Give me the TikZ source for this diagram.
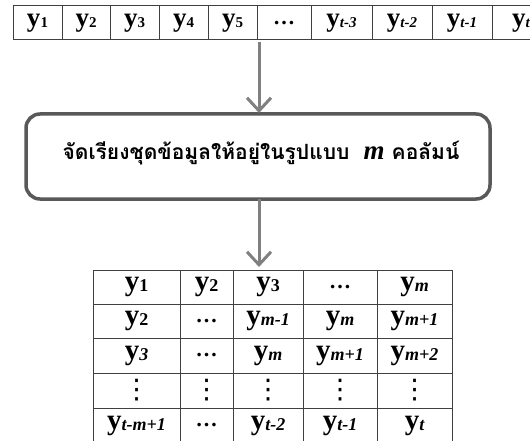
\documentclass[tikz,border=0pt]{standalone}
\usepackage{fontspec}
\setmainfont{Liberation Serif}
\newfontfamily\thaifont[Script=Thai]{Loma}
\newfontfamily\symfont{DejaVu Sans}
\usetikzlibrary{arrows.meta}
\newcommand{\ya}[1]{{\fontsize{27}{27}\selectfont\bfseries y}\raisebox{-1pt}{\fontsize{15}{15}\selectfont\bfseries #1}}
\newcommand{\yb}[1]{{\fontsize{29}{29}\selectfont\bfseries y}\raisebox{-1pt}{\fontsize{18}{18}\selectfont\bfseries #1}}
\newcommand{\hd}{{\fontsize{22}{22}\selectfont\bfseries\dots}}
\newcommand{\vd}{{\fontsize{27}{27}\selectfont\symfont ⋮}}
% \cellat{name}{xl}{xr}{yt}{yb}{text}
\newcommand{\cellat}[6]{\node[cell, minimum width={#3-#2}, minimum height={#5-#4}] (#1) at ({(#2+#3)/2},{(#4+#5)/2}) {#6};}
\tikzset{
  cell/.style={draw=black!75, line width=1pt, inner sep=0pt, anchor=center},
  flow/.style={draw=black!50, line width=3pt, -{Straight Barb[length=13pt,width=24pt,line width=3pt]}},
  proc/.style={draw=black!65, line width=3.5pt, rounded corners=14pt, inner sep=0pt}
}
\begin{document}
\begin{tikzpicture}[x=1pt,y=-1pt]
\clip (0,0) rectangle (530,441);
\fill[white] (0,0) rectangle (530,441);
% top row
\cellat{t1}{13}{62}{6}{40}{\ya{1}}
\cellat{t2}{62}{110}{6}{40}{\ya{2}}
\cellat{t3}{110}{159}{6}{40}{\ya{3}}
\cellat{t4}{159}{208}{6}{40}{\ya{4}}
\cellat{t5}{208}{257}{6}{40}{\ya{5}}
\cellat{t6}{257}{311}{6}{40}{\hd}
\cellat{t7}{311}{372}{6}{40}{\ya{\itshape t-3}}
\cellat{t8}{372}{432}{6}{40}{\ya{\itshape t-2}}
\cellat{t9}{432}{492}{6}{40}{\ya{\itshape t-1}}
\cellat{t10}{492}{550}{6}{40}{\ya{\itshape t}}
% process box
\node[proc, minimum width=464, minimum height=85] (p) at (258,156.5) {};
\node (ptext) at (261,153) {\fontsize{21}{21}\selectfont\thaifont\bfseries จัดเรียงชุดข้อมูลให้อยู่ในรูปแบบ~ {\fontsize{27}{27}\selectfont\rmfamily\bfseries\itshape m} คอลัมน์};
\coordinate (a1s) at (259,42);
\coordinate (a1e) at (259,113);
\coordinate (a2s) at (259,199);
\coordinate (a2e) at (259,267);
\draw[flow] (a1s) -- (a1e);
\draw[flow] (a2s) -- (a2e);
% bottom table: cols 93,180,233,303,377,452 ; rows 270,304,338,373,408,443
\cellat{b11}{93}{180}{270}{304}{\yb{1}}
\cellat{b12}{180}{233}{270}{304}{\yb{2}}
\cellat{b13}{233}{303}{270}{304}{\yb{3}}
\cellat{b14}{303}{377}{270}{304}{\hd}
\cellat{b15}{377}{452}{270}{304}{\yb{\itshape m}}
\cellat{b21}{93}{180}{304}{338}{\yb{2}}
\cellat{b22}{180}{233}{304}{338}{\hd}
\cellat{b23}{233}{303}{304}{338}{\yb{\itshape m-1}}
\cellat{b24}{303}{377}{304}{338}{\yb{\itshape m}}
\cellat{b25}{377}{452}{304}{338}{\yb{\itshape m+1}}
\cellat{b31}{93}{180}{338}{373}{\yb{\itshape 3}}
\cellat{b32}{180}{233}{338}{373}{\hd}
\cellat{b33}{233}{303}{338}{373}{\yb{\itshape m}}
\cellat{b34}{303}{377}{338}{373}{\yb{\itshape m+1}}
\cellat{b35}{377}{452}{338}{373}{\yb{\itshape m+2}}
\cellat{b41}{93}{180}{373}{408}{\vd}
\cellat{b42}{180}{233}{373}{408}{\vd}
\cellat{b43}{233}{303}{373}{408}{\vd}
\cellat{b44}{303}{377}{373}{408}{\vd}
\cellat{b45}{377}{452}{373}{408}{\vd}
\cellat{b51}{93}{180}{408}{443}{\yb{\itshape t-m+1}}
\cellat{b52}{180}{233}{408}{443}{\hd}
\cellat{b53}{233}{303}{408}{443}{\yb{\itshape t-2}}
\cellat{b54}{303}{377}{408}{443}{\yb{\itshape t-1}}
\cellat{b55}{377}{452}{408}{443}{\yb{\itshape t}}
\end{tikzpicture}
\end{document}
